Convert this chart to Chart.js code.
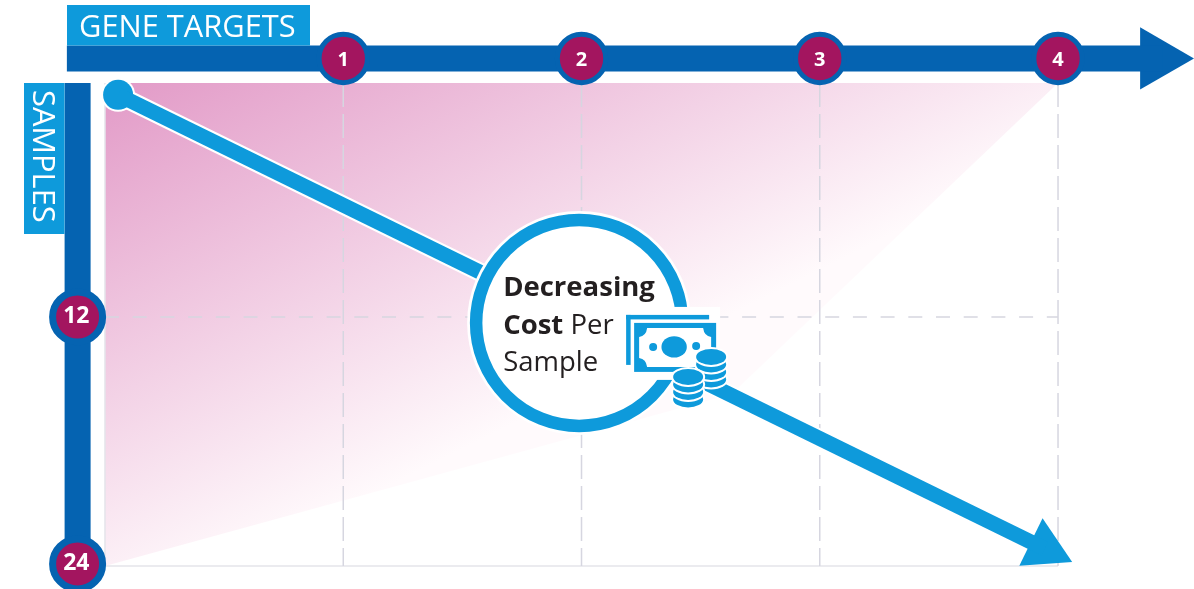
<!DOCTYPE html>
<html>
<head>
<meta charset="utf-8">
<title>Decreasing cost per sample</title>
<script src="https://cdn.jsdelivr.net/npm/chart.js@4/dist/chart.umd.min.js"></script>
<style>
  html, body { margin: 0; padding: 0; background: #fff; }
  canvas { display: block; }
</style>
</head>
<body>
<canvas id="myChart" width="1194" height="589"></canvas>
<script>
// Axis ticks
const geneTicks = [1, 2, 3, 4];
const sampleTicks = [12, 24];

// Plot frame, in genes / samples
const plotGenes = [0, 4];
const plotSamples = [0.63, 24.1];

// Edge of the shaded coverage area
const shadeGenes = [0, 2.63, 4];
const shadeSamples = [24.1, 15.74, 0.63];

// Cost per sample arrow
const costGenes = [0.055, 3.944];
const costSamples = [1.21, 23.26];

// Axis arrows
const geneArrowGenes = [-0.16, 4.44];
const geneArrowHead = [4.42];
const geneAxisAt = -0.56;
const sampleAxisAt = -0.115;

// Callout circle
const calloutGene = [1.99];
const calloutSample = [12.29];

// Colors
const darkBlue = "#0563B1";
const lightBlue = "#0E9ADB";
const magenta = "#A3155F";
const gridColor = "#D6D6E0";

function toPoints(xs, ys) {
    return xs.map((x, i) => ({ x: x, y: ys[i] }));
}

function lineSet(points, color, width, order, extra) {
    return Object.assign({
        data: points,
        showLine: true,
        borderColor: color,
        borderWidth: width,
        borderCapStyle: "butt",
        pointRadius: 0,
        order: order,
    }, extra);
}

function pointSet(points, style, order) {
    return Object.assign({ data: points, order: order, showLine: false }, style);
}

// Pink wash fading toward the lower right
function shadeGradient(context) {
    const chart = context.chart;
    if (!chart.chartArea) return "#fff";
    const left = chart.scales.x.getPixelForValue(plotGenes[0]);
    const top = chart.scales.y.getPixelForValue(plotSamples[0]);
    const g = chart.ctx.createLinearGradient(left, top, left + 218, top + 436);
    g.addColorStop(0, "#E29AC7");
    g.addColorStop(1, "#FFFAFC");
    return g;
}

const gridSets = [
    ...geneTicks.map((gene) =>
        lineSet(toPoints([gene, gene], plotSamples), gridColor, 1.5, 8, { borderDash: [24, 7] })
    ),
    lineSet(toPoints(plotGenes, [sampleTicks[0], sampleTicks[0]]), gridColor, 1.5, 8, { borderDash: [14, 13.7] }),
    lineSet(toPoints([0, 0], plotSamples), "#E4E4EA", 1.5, 8),
    lineSet(toPoints(plotGenes, [plotSamples[1], plotSamples[1]]), "#E4E4EA", 1.5, 8),
];

const datasets = [
    lineSet(toPoints(shadeGenes, shadeSamples), "transparent", 0, 9, {
        fill: { value: plotSamples[0] },
        backgroundColor: shadeGradient,
    }),
    ...gridSets,

    // Axis bars, arrow head and numbered badges
    lineSet(toPoints(geneArrowGenes, [geneAxisAt, geneAxisAt]), darkBlue, 26, 7),
    pointSet(toPoints(geneArrowHead, [geneAxisAt]), {
        pointStyle: "triangle", pointRadius: 36, pointRotation: 90,
        pointBackgroundColor: darkBlue, pointBorderWidth: 0,
    }, 7),
    lineSet(toPoints([sampleAxisAt, sampleAxisAt], [plotSamples[0], sampleTicks[1]]), darkBlue, 26, 7),
    pointSet(toPoints(geneTicks, geneTicks.map(() => geneAxisAt)), {
        pointRadius: 24.2, pointBackgroundColor: magenta, pointBorderColor: darkBlue, pointBorderWidth: 5,
    }, 1),
    pointSet(toPoints(sampleTicks.map(() => sampleAxisAt), sampleTicks), {
        pointRadius: 25, pointBackgroundColor: magenta, pointBorderColor: darkBlue, pointBorderWidth: 7,
    }, 1),

    // Cost arrow with its white edge
    lineSet(toPoints(costGenes, costSamples), "#fff", 19, 6),
    pointSet(toPoints(costGenes.slice(0, 1), costSamples.slice(0, 1)), {
        pointRadius: 17, pointBackgroundColor: "#fff", pointBorderWidth: 0,
    }, 6),
    lineSet(toPoints(costGenes, costSamples), lightBlue, 15, 5),
    pointSet(toPoints(costGenes.slice(0, 1), costSamples.slice(0, 1)), {
        pointRadius: 15, pointBackgroundColor: lightBlue, pointBorderWidth: 0,
    }, 5),
    pointSet(toPoints(costGenes.slice(1), costSamples.slice(1)), {
        pointStyle: "triangle", pointRadius: 30.6, pointRotation: 116,
        pointBackgroundColor: lightBlue, pointBorderWidth: 0,
    }, 5),

    // Callout ring
    pointSet(toPoints(calloutGene, calloutSample), {
        pointRadius: 112, pointBackgroundColor: "#fff", pointBorderWidth: 0,
    }, 4),
    pointSet(toPoints(calloutGene, calloutSample), {
        pointRadius: 103, pointBackgroundColor: "#fff", pointBorderColor: lightBlue, pointBorderWidth: 12.5,
    }, 3),
];

// Stack of coins, drawn from the bottom layer up
function drawCoins(ctx, cx, topY, layers) {
    for (let i = layers - 1; i >= 0; i--) {
        const y = topY + i * 7.5;
        ctx.beginPath();
        ctx.ellipse(cx, y, 17, 10, 0, 0, Math.PI * 2);
        ctx.fillStyle = "#fff";
        ctx.fill();
        ctx.beginPath();
        ctx.ellipse(cx, y, 15, 8, 0, 0, Math.PI * 2);
        ctx.fillStyle = lightBlue;
        ctx.fill();
    }
}

function drawMoney(ctx, cx, cy) {
    // Clears the gap in the ring
    ctx.fillStyle = "#fff";
    ctx.fillRect(cx + 44, cy - 16, 97, 73);

    // Back note
    ctx.fillStyle = lightBlue;
    ctx.fillRect(cx + 47, cy - 8, 83, 4.5);
    ctx.fillRect(cx + 47, cy - 8, 4.5, 50);

    // Front note
    ctx.fillRect(cx + 55, cy, 82, 49);
    ctx.fillStyle = "#fff";
    ctx.beginPath();
    ctx.moveTo(cx + 68, cy + 5);
    ctx.lineTo(cx + 124, cy + 5);
    ctx.quadraticCurveTo(cx + 125, cy + 13, cx + 132, cy + 14);
    ctx.lineTo(cx + 132, cy + 35);
    ctx.quadraticCurveTo(cx + 125, cy + 36, cx + 124, cy + 44);
    ctx.lineTo(cx + 68, cy + 44);
    ctx.quadraticCurveTo(cx + 67, cy + 36, cx + 60, cy + 35);
    ctx.lineTo(cx + 60, cy + 14);
    ctx.quadraticCurveTo(cx + 67, cy + 13, cx + 68, cy + 5);
    ctx.fill();

    ctx.fillStyle = lightBlue;
    ctx.beginPath();
    ctx.ellipse(cx + 95, cy + 24, 12.7, 10.7, 0, 0, Math.PI * 2);
    ctx.fill();
    ctx.beginPath();
    ctx.arc(cx + 74, cy + 24, 4, 0, Math.PI * 2);
    ctx.arc(cx + 117, cy + 23, 4, 0, Math.PI * 2);
    ctx.fill();

    drawCoins(ctx, cx + 132, cy + 34, 4);
    drawCoins(ctx, cx + 109, cy + 54, 4);
}

const decorations = {
    id: "decorations",
    afterDatasetsDraw(chart) {
        const ctx = chart.ctx;
        const cx = chart.scales.x.getPixelForValue(calloutGene[0]);
        const cy = chart.scales.y.getPixelForValue(calloutSample[0]);

        ctx.save();
        drawMoney(ctx, cx, cy);

        // Callout text
        ctx.textBaseline = "alphabetic";
        ctx.textAlign = "left";
        ctx.fillStyle = "#231F20";
        ctx.font = "bold 27.5px 'Open Sans'";
        ctx.fillText("Decreasing", cx - 76, cy - 27);
        ctx.fillText("Cost", cx - 76, cy + 11);
        const costWidth = ctx.measureText("Cost ").width;
        ctx.font = "27.5px 'Open Sans'";
        ctx.fillText("Per", cx - 76 + costWidth, cy + 11);
        ctx.fillText("Sample", cx - 76, cy + 48);

        // Axis name boxes
        ctx.fillStyle = lightBlue;
        ctx.fillRect(67, 5, 243, 40.5);
        ctx.fillRect(24, 83, 40.5, 151);

        ctx.fillStyle = "#fff";
        ctx.font = "30.8px 'Open Sans'";
        ctx.fillText("GENE TARGETS", 79, 37);
        ctx.translate(33, 90);
        ctx.rotate(Math.PI / 2);
        ctx.fillText("SAMPLES", 0, 0);
        ctx.restore();
    },
};

// Tick labels sit inside the badges, so they must not take margin from the plot
function dropScaleMargins(scale) {
    scale.paddingTop = 0;
    scale.paddingBottom = 0;
    scale.paddingLeft = 0;
    scale.paddingRight = 0;
}

new Chart(document.getElementById("myChart"), {
    type: "scatter",
    data: { datasets: datasets },
    plugins: [decorations],
    options: {
        responsive: false,
        animation: false,
        layout: { padding: 0, autoPadding: false },
        plugins: { legend: { display: false }, tooltip: { enabled: false } },
        scales: {
            x: {
                type: "linear",
                min: -0.4407,
                max: 4.5707,
                position: { y: geneAxisAt },
                grid: { display: false, drawTicks: false },
                border: { display: false },
                afterFit: dropScaleMargins,
                afterBuildTicks: (scale) => {
                    scale.ticks = geneTicks.map((value) => ({ value: value }));
                },
                ticks: {
                    autoSkip: false,
                    maxRotation: 0,
                    padding: -10,
                    z: 1,
                    color: "#fff",
                    font: { family: "'Open Sans'", size: 20, weight: "bold" },
                },
            },
            y: {
                type: "linear",
                reverse: true,
                min: -3.4,
                max: 25.22,
                position: { x: sampleAxisAt + 0.05 },
                grid: { display: false, drawTicks: false },
                border: { display: false },
                afterFit: dropScaleMargins,
                afterBuildTicks: (scale) => {
                    scale.ticks = sampleTicks.map((value) => ({ value: value }));
                },
                ticks: {
                    autoSkip: false,
                    padding: 0,
                    z: 1,
                    color: "#fff",
                    font: { family: "'Open Sans'", size: 23, weight: "bold" },
                },
            },
        },
    },
});
</script>
</body>
</html>
